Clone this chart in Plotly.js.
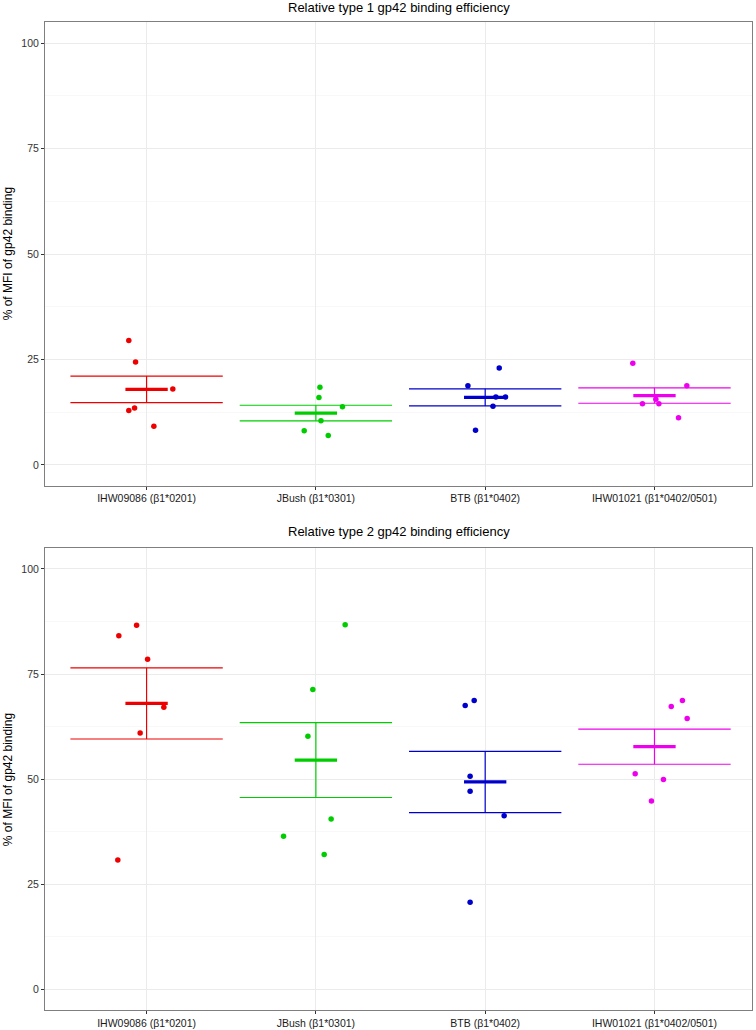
<!DOCTYPE html>
<html>
<head>
<meta charset="utf-8">
<script src="https://cdn.plot.ly/plotly-3.0.1.min.js"></script>
<style>body{margin:0;padding:0;background:#fff;} #chart{width:756px;height:1030px;}</style>
</head>
<body>
<div id="chart"></div>
<script>
// ---------- DATA ----------
var categories = ["IHW09086 (\u03b21*0201)", "JBush (\u03b21*0301)", "BTB (\u03b21*0402)", "IHW01021 (\u03b21*0402/0501)"];
var groupColors = ["#EE0000", "#00CD00", "#0000CD", "#EE00EE"];

// Type 1 binding (% of MFI)
var type1_IHW09086 = [29.5, 24.4, 18.0, 12.9, 13.5, 9.2];
var type1_JBush    = [18.4, 16.0, 13.8, 10.5, 8.1, 7.0];
var type1_BTB      = [23.0, 18.8, 16.1, 16.1, 13.9, 8.2];
var type1_IHW01021 = [24.1, 18.8, 15.6, 14.5, 14.5, 11.2];
// horizontal jitter offsets (category units)
var jit1_IHW09086 = [-0.105, -0.065, 0.155, -0.105, -0.071, 0.043];
var jit1_JBush    = [0.024, 0.018, 0.157, 0.030, -0.069, 0.073];
var jit1_BTB      = [0.083, -0.102, 0.063, 0.120, 0.046, -0.057];
var jit1_IHW01021 = [-0.128, 0.191, 0.008, -0.071, 0.026, 0.142];

// Type 2 binding (% of MFI)
var type2_IHW09086 = [86.6, 84.1, 78.5, 67.1, 61.0, 30.8];
var type2_JBush    = [86.7, 71.3, 60.2, 40.5, 36.4, 32.1];
var type2_BTB      = [68.7, 67.5, 50.7, 47.1, 41.3, 20.7];
var type2_IHW01021 = [68.7, 67.3, 64.4, 51.3, 49.9, 44.8];
var jit2_IHW09086 = [-0.059, -0.164, 0.006, 0.102, -0.038, -0.170];
var jit2_JBush    = [0.173, -0.018, -0.047, 0.090, -0.191, 0.049];
var jit2_BTB      = [-0.065, -0.118, -0.089, -0.089, 0.112, -0.089];
var jit2_IHW01021 = [0.165, 0.099, 0.193, -0.114, 0.053, -0.018];

var yTickVals = [0, 25, 50, 75, 100];
var panelTitles = ["Relative type 1 gp42 binding efficiency", "Relative type 2 gp42 binding efficiency"];
var yTitle = "% of MFI of gp42 binding";

// ---------- BUILD ----------
var panels = [
  {vals: [type1_IHW09086, type1_JBush, type1_BTB, type1_IHW01021],
   jit:  [jit1_IHW09086, jit1_JBush, jit1_BTB, jit1_IHW01021], xa: 'x', ya: 'y'},
  {vals: [type2_IHW09086, type2_JBush, type2_BTB, type2_IHW01021],
   jit:  [jit2_IHW09086, jit2_JBush, jit2_BTB, jit2_IHW01021], xa: 'x2', ya: 'y2'}
];

function mean(a){ return a.reduce(function(s,v){return s+v;},0)/a.length; }
function se(a){ var m=mean(a); var ss=a.reduce(function(s,v){return s+(v-m)*(v-m);},0); return Math.sqrt(ss/(a.length-1))/Math.sqrt(a.length); }

var CAP = 0.45, BAR = 0.125;
var traces = [];
panels.forEach(function(p){
  p.vals.forEach(function(vals, i){
    var c = i + 1, col = groupColors[i];
    var m = mean(vals), s = se(vals);
    traces.push({type:'scatter', mode:'lines', xaxis:p.xa, yaxis:p.ya, hoverinfo:'skip', showlegend:false,
      x:[c-CAP, c+CAP, null, c, c, null, c-CAP, c+CAP],
      y:[m+s, m+s, null, m+s, m-s, null, m-s, m-s],
      line:{color:col, width:1.2}});
    traces.push({type:'scatter', mode:'lines', xaxis:p.xa, yaxis:p.ya, hoverinfo:'skip', showlegend:false,
      x:[c-BAR, c+BAR], y:[m, m], line:{color:col, width:3.2}});
    traces.push({type:'scatter', mode:'markers', xaxis:p.xa, yaxis:p.ya, showlegend:false,
      x: vals.map(function(v, k){ return c + p.jit[i][k]; }), y: vals,
      marker:{color:col, size:5.5, line:{width:0}}});
  });
});

var fontFam = "Liberation Sans, Arial, Helvetica, sans-serif";
function xAxis(anchor){
  return {anchor:anchor, range:[0.4, 4.576], tickmode:'array', tickvals:[1,2,3,4], ticktext:categories,
    showgrid:true, gridcolor:'#EBEBEB', gridwidth:1, zeroline:false,
    showline:true, mirror:true, linecolor:'#7F7F7F', linewidth:1,
    ticks:'outside', ticklen:3, tickcolor:'#333333', tickwidth:1,
    tickfont:{family:fontFam, size:10.5, color:'#1A1A1A'}, fixedrange:true};
}
function yAxis(anchor, domain){
  return {anchor:anchor, domain:domain, range:[-4.9, 105], tickmode:'array', tickvals:yTickVals,
    showgrid:true, gridcolor:'#EBEBEB', gridwidth:1, zeroline:false,
    minor:{tickvals:[12.5, 37.5, 62.5, 87.5], showgrid:true, gridcolor:'#F4F4F4', gridwidth:0.6, ticks:''},
    showline:true, mirror:true, linecolor:'#7F7F7F', linewidth:1,
    ticks:'outside', ticklen:3, tickcolor:'#333333', tickwidth:1,
    tickfont:{family:fontFam, size:10.5, color:'#333333'}, fixedrange:true};
}

var L = 45.3, R = 4.3, T = 22.3, B = 19.5;
var W = 756 - L - R, H = 1030 - T - B;
var topBottomPx = 486, botTopPx = 548.3;
var layout = {
  width:756, height:1030,
  margin:{l:L, r:R, t:T, b:B, pad:0},
  paper_bgcolor:'#ffffff', plot_bgcolor:'#ffffff',
  font:{family:fontFam, color:'#333333'},
  showlegend:false,
  xaxis: xAxis('y'),
  yaxis: yAxis('x', [(1030 - topBottomPx - B)/H, 1]),
  xaxis2: xAxis('y2'),
  yaxis2: yAxis('x2', [0, (1030 - B - botTopPx)/H]),
  annotations:[
    {text:panelTitles[0], xref:'paper', yref:'paper', x:0.5, y:(1030-B-8)/H, xanchor:'center', yanchor:'middle',
     showarrow:false, font:{family:fontFam, size:13, color:'#000'}},
    {text:panelTitles[1], xref:'paper', yref:'paper', x:0.5, y:(1030-B-532)/H, xanchor:'center', yanchor:'middle',
     showarrow:false, font:{family:fontFam, size:13, color:'#000'}},
    {text:yTitle, xref:'paper', yref:'paper', x:-(L-8)/W, y:(1030-B-254)/H, xanchor:'center', yanchor:'middle',
     textangle:-90, showarrow:false, font:{family:fontFam, size:12, color:'#000'}},
    {text:yTitle, xref:'paper', yref:'paper', x:-(L-8)/W, y:(1030-B-780)/H, xanchor:'center', yanchor:'middle',
     textangle:-90, showarrow:false, font:{family:fontFam, size:12, color:'#000'}}
  ]
};

Plotly.newPlot('chart', traces, layout, {displayModeBar:false, staticPlot:true});
</script>
</body>
</html>
